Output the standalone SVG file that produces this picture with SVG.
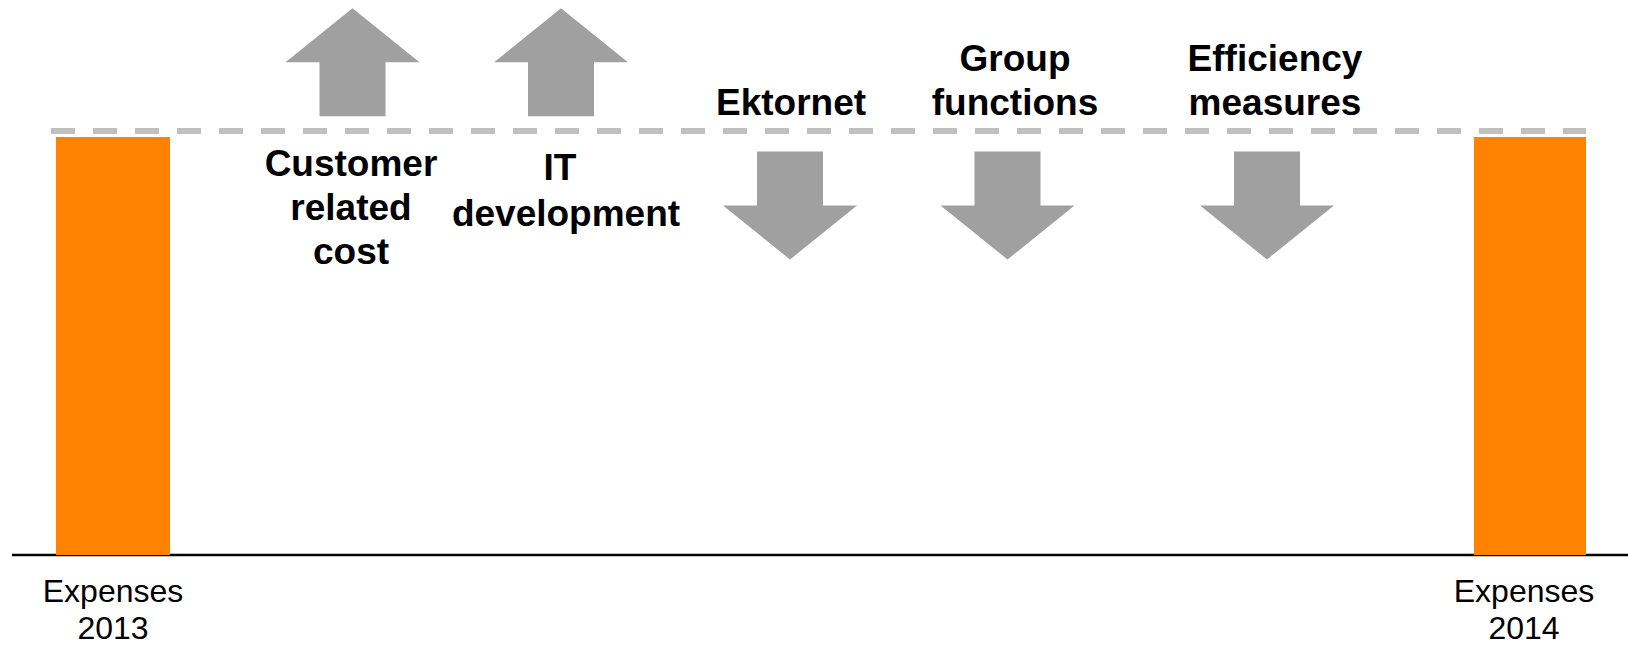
<svg xmlns="http://www.w3.org/2000/svg" xmlns:xlink="http://www.w3.org/1999/xlink" width="1628" height="646" viewBox="0 0 1628 646">
  <style>
    .bar { fill: #FF8200; }
    .arrow { fill: #A0A0A0; }
    .label { font-family: "Liberation Sans", Arial, sans-serif; font-size: 37px; font-weight: bold; fill: #000; text-anchor: middle; }
    .axis-label { font-family: "Liberation Sans", Arial, sans-serif; font-size: 32px; fill: #000; text-anchor: middle; }
    .level { stroke: #C0C0C0; stroke-width: 6; stroke-dasharray: 24 18; fill: none; }
    .axis { stroke: #000; stroke-width: 2.5; fill: none; }
  </style>
  <defs>
    <!-- block arrow pointing up, tip at the origin -->
    <path id="block-arrow" d="M0,0 L67,54 L33,54 L33,108 L-33,108 L-33,54 L-67,54 Z"/>
  </defs>

  <rect width="1628" height="646" fill="#FFFFFF"/>

  <!-- level line and baseline -->
  <g id="connectors">
    <line class="level" x1="51" y1="131" x2="1586" y2="131"/>
    <line class="axis" x1="12" y1="555" x2="1628" y2="555"/>
  </g>

  <g id="expenses-2013">
    <rect class="bar" x="56" y="137" width="114" height="418"/>
    <text class="axis-label" x="113" y="602">Expenses</text>
    <text class="axis-label" x="113" y="639">2013</text>
  </g>

  <g id="expenses-2014">
    <rect class="bar" x="1474" y="137" width="112" height="418"/>
    <text class="axis-label" x="1524" y="602">Expenses</text>
    <text class="axis-label" x="1524" y="639">2014</text>
  </g>

  <g id="customer-related-cost">
    <use href="#block-arrow" xlink:href="#block-arrow" class="arrow" transform="translate(352.5,8.3)"/>
    <text class="label" x="351" y="176">Customer</text>
    <text class="label" x="351" y="220">related</text>
    <text class="label" x="351" y="264">cost</text>
  </g>

  <g id="it-development">
    <use href="#block-arrow" xlink:href="#block-arrow" class="arrow" transform="translate(561,8.3)"/>
    <text class="label" x="560" y="180">IT</text>
    <text class="label" x="566" y="226">development</text>
  </g>

  <g id="ektornet">
    <use href="#block-arrow" xlink:href="#block-arrow" class="arrow" transform="translate(790,259.5) scale(1,-1)"/>
    <text class="label" x="791" y="115">Ektornet</text>
  </g>

  <g id="group-functions">
    <use href="#block-arrow" xlink:href="#block-arrow" class="arrow" transform="translate(1007.5,259.5) scale(1,-1)"/>
    <text class="label" x="1015" y="71">Group</text>
    <text class="label" x="1015" y="115">functions</text>
  </g>

  <g id="efficiency-measures">
    <use href="#block-arrow" xlink:href="#block-arrow" class="arrow" transform="translate(1267,259.5) scale(1,-1)"/>
    <text class="label" x="1275" y="71">Efficiency</text>
    <text class="label" x="1275" y="115">measures</text>
  </g>
</svg>
